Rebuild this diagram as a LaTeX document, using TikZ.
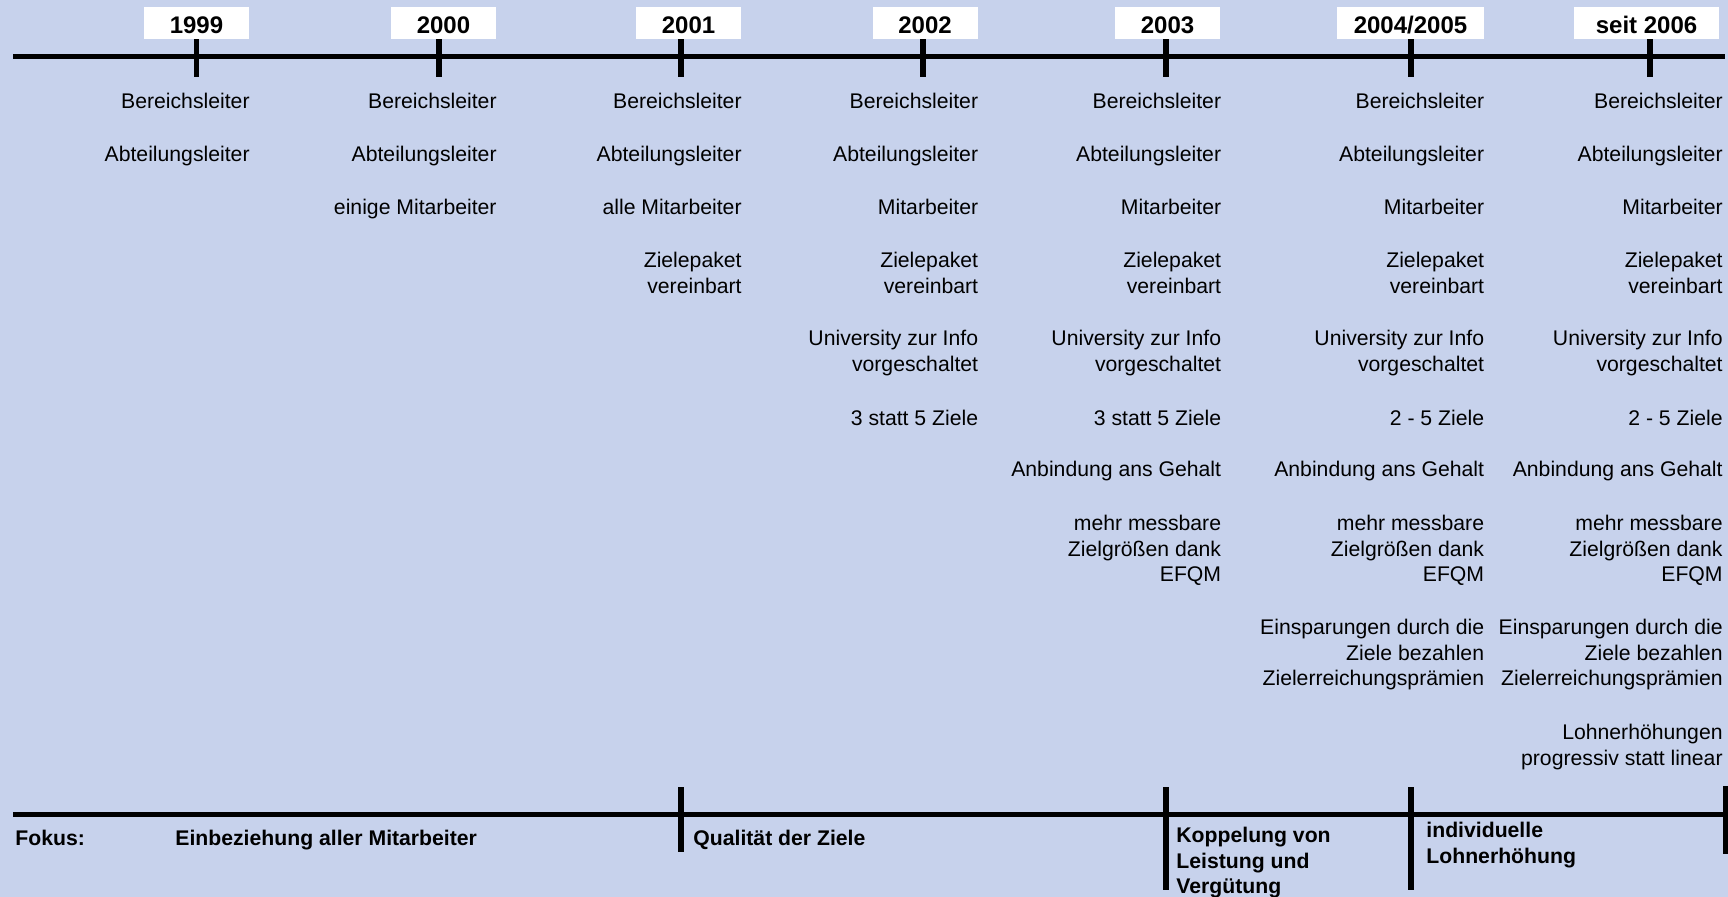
\documentclass[tikz,border=0pt]{standalone}
\usepackage{fontspec}
\setmainfont{Liberation Sans}
\usepackage{xcolor}
\usetikzlibrary{positioning}
\definecolor{bgblue}{RGB}{199,210,236}

\begin{document}
\begin{tikzpicture}[
			x=0.5pt, y=-0.5pt,
			axis/.style={line width=2.7pt},
			tick/.style={line width=2.6pt},
			year/.style={fill=white,minimum width=52.5pt,minimum height=16pt,inner sep=0pt,text height=10pt,text depth=0pt,font=\fontsize{12}{14}\selectfont\bfseries},
			entry/.style={anchor=north east,align=right,inner sep=0pt,font=\fontsize{10.6}{12.65}\selectfont},
			focus/.style={anchor=north west,align=left,inner sep=0pt,font=\fontsize{10.6}{12.65}\selectfont\bfseries}
			]
			\fill[bgblue] (0,0) rectangle (1728,897);
			\useasboundingbox (0,0) rectangle (1728,897);
			% time axis
			\draw[axis] (13,56.5) -- (1725,56.5);
			\draw[tick] (196.5,39) -- (196.5,77) (439,39) -- (439,77) (681,39) -- (681,77) (923,39) -- (923,77)
				(1166,39) -- (1166,77) (1411,39) -- (1411,77) (1650,39) -- (1650,77);
			\node[year] (y99) at (196.5,23.5) {1999};
			\node[year] (y00) at (443.5,23.5) {2000};
			\node[year] (y01) at (688.5,23.5) {2001};
			\node[year] (y02) at (925,23.5) {2002};
			\node[year] (y03) at (1167.5,23.5) {2003};
			\node[year, minimum width=73.5pt] (y04) at (1410.5,23.5) {2004/2005};
			\node[year, minimum width=72.5pt] (y06) at (1646.5,23.5) {seit 2006};
			% 1999
			\node[entry] (bl99) at (250,93) {Bereichsleiter};
			\node[entry] (al99) at (250,146) {Abteilungsleiter};
			% 2000
			\node[entry] (bl00) at (497,93) {Bereichsleiter};
			\node[entry] (al00) at (497,146) {Abteilungsleiter};
			\node[entry] (ma00) at (497,199) {einige Mitarbeiter};
			% 2001
			\node[entry] (bl01) at (742,93) {Bereichsleiter};
			\node[entry] (al01) at (742,146) {Abteilungsleiter};
			\node[entry] (ma01) at (742,199) {alle Mitarbeiter};
			\node[entry] (zp01) at (742,252) {Zielepaket\\vereinbart};
			% 2002
			\node[entry] (bl02) at (978.5,93) {Bereichsleiter};
			\node[entry] (al02) at (978.5,146) {Abteilungsleiter};
			\node[entry] (ma02) at (978.5,199) {Mitarbeiter};
			\node[entry] (zp02) at (978.5,252) {Zielepaket\\vereinbart};
			\node[entry] (uni02) at (978.5,330) {University zur Info\\vorgeschaltet};
			\node[entry] (anz02) at (978.5,410) {3 statt 5 Ziele};
			% 2003
			\node[entry] (bl03) at (1221.5,93) {Bereichsleiter};
			\node[entry] (al03) at (1221.5,146) {Abteilungsleiter};
			\node[entry] (ma03) at (1221.5,199) {Mitarbeiter};
			\node[entry] (zp03) at (1221.5,252) {Zielepaket\\vereinbart};
			\node[entry] (uni03) at (1221.5,330) {University zur Info\\vorgeschaltet};
			\node[entry] (anz03) at (1221.5,410) {3 statt 5 Ziele};
			\node[entry] (geh03) at (1221.5,461) {Anbindung ans Gehalt};
			\node[entry] (efqm03) at (1221.5,515) {mehr messbare\\Zielgrößen dank\\EFQM};
			% 2004/2005
			\node[entry] (bl04) at (1484.5,93) {Bereichsleiter};
			\node[entry] (al04) at (1484.5,146) {Abteilungsleiter};
			\node[entry] (ma04) at (1484.5,199) {Mitarbeiter};
			\node[entry] (zp04) at (1484.5,252) {Zielepaket\\vereinbart};
			\node[entry] (uni04) at (1484.5,330) {University zur Info\\vorgeschaltet};
			\node[entry] (anz04) at (1484.5,410) {2 - 5 Ziele};
			\node[entry] (geh04) at (1484.5,461) {Anbindung ans Gehalt};
			\node[entry] (efqm04) at (1484.5,515) {mehr messbare\\Zielgrößen dank\\EFQM};
			\node[entry] (spar04) at (1484.5,619) {Einsparungen durch die\\Ziele bezahlen\\Zielerreichungsprämien};
			% seit 2006
			\node[entry] (bl06) at (1723,93) {Bereichsleiter};
			\node[entry] (al06) at (1723,146) {Abteilungsleiter};
			\node[entry] (ma06) at (1723,199) {Mitarbeiter};
			\node[entry] (zp06) at (1723,252) {Zielepaket\\vereinbart};
			\node[entry] (uni06) at (1723,330) {University zur Info\\vorgeschaltet};
			\node[entry] (anz06) at (1723,410) {2 - 5 Ziele};
			\node[entry] (geh06) at (1723,461) {Anbindung ans Gehalt};
			\node[entry] (efqm06) at (1723,515) {mehr messbare\\Zielgrößen dank\\EFQM};
			\node[entry] (spar06) at (1723,619) {Einsparungen durch die\\Ziele bezahlen\\Zielerreichungsprämien};
			\node[entry] (lohn06) at (1723,724) {Lohnerhöhungen\\progressiv statt linear};
			% focus axis
			\draw[axis] (13,814.5) -- (1725,814.5);
			\draw[tick] (681,787) -- (681,852) (1166,787) -- (1166,890) (1411,787) -- (1411,890) (1725.5,786) -- (1725.5,854);
			\node[focus] (fokus) at (15,830) {Fokus:};
			\node[focus] (fk1) at (175,830) {Einbeziehung aller Mitarbeiter};
			\node[focus] (fk2) at (693,830) {Qualität der Ziele};
			\node[focus] (fk3) at (1176,827) {Koppelung von\\Leistung und\\Vergütung};
			\node[focus] (fk4) at (1426,822) {individuelle\\Lohnerhöhung};
		\end{tikzpicture}
\end{document}
